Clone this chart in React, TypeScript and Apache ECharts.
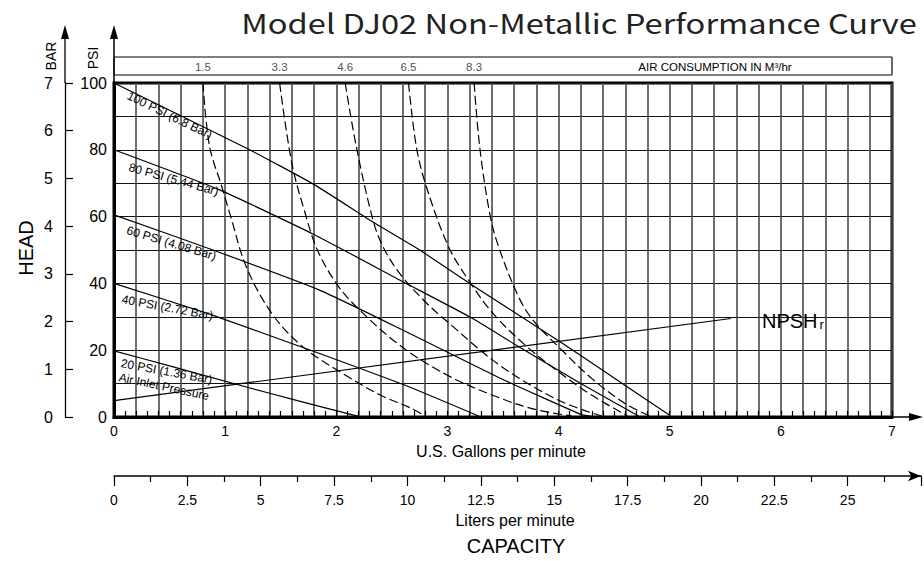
import React, { useEffect, useRef } from "react";
import * as echarts from "echarts";

const titleText = "Model DJ02 Non-Metallic Performance Curve";

// Pressure (air inlet) curves: [US GPM, head PSI]
const psi20 = [[0, 19.8], [0.5, 15.3], [1.1, 9.8], [1.65, 4.9], [2.2, 0.2]];
const psi40 = [[0, 40], [0.86, 30.8], [1.85, 19], [2.62, 9.5], [3.28, 0.3]];
const psi60 = [[0, 60.5], [0.89, 50], [1.85, 38], [2.57, 26.5], [3.47, 11.7], [4.2, 0.8], [4.33, 0]];
const psi80 = [[0, 80], [0.95, 68], [1.79, 54.8], [2.6, 40.5], [3.2, 30], [3.62, 21.5], [4.2, 10], [4.72, 0.3]];
const psi100 = [[0, 100], [1.22, 80], [1.79, 69.8], [2.33, 58.4], [2.75, 50], [3.2, 40], [4.01, 22.6], [4.61, 9.2], [5.0, 0.5]];

// Air consumption curves (m3/hr): [US GPM, head PSI]
const air15 = [[0.8, 100], [0.86, 81], [0.97, 69], [1.05, 60], [1.19, 45], [1.42, 31], [1.7, 21], [2.06, 13], [2.4, 6.5], [2.66, 2.8], [2.8, 0.3]];
const air33 = [[1.49, 100], [1.6, 76], [1.72, 61], [1.83, 50], [2.0, 40], [2.18, 33], [2.57, 21.5], [3.0, 12.5], [3.47, 5.7], [3.8, 2.2], [4.12, 0.3]];
const air46 = [[2.08, 100], [2.18, 81], [2.33, 59], [2.42, 51], [2.57, 43], [2.8, 34.5], [3.0, 28.5], [3.47, 15.5], [4.0, 5], [4.39, 0.3]];
const air65 = [[2.65, 100], [2.72, 81], [2.81, 69], [3.01, 51], [3.2, 40.5], [3.41, 31], [3.7, 21.5], [4.0, 13.5], [4.3, 6.5], [4.62, 0.3]];
const air83 = [[3.24, 100], [3.29, 81], [3.38, 61], [3.46, 51], [3.64, 36], [3.77, 29], [4.0, 21], [4.3, 11.5], [4.6, 4], [4.82, 0.3]];
const airLabels = ["1.5", "3.3", "4.6", "6.5", "8.3"];

// NPSHr line
const npsh = [[0, 4.9], [5.55, 29.5]];

const pressureCurves = [psi20, psi40, psi60, psi80, psi100];
const airCurves = [air15, air33, air46, air65, air83];

const gpmMax = 7;
const psiMax = 100;
const barMax = 7;
const litersMax = 27.5;
const litersPerGallon = 3.785411784;

const curveLabels = [
  { text: "100 PSI (6.8 Bar)", x: 128, y: 95, deg: 26 },
  { text: "80 PSI (5.44 Bar)", x: 129, y: 167, deg: 15.5 },
  { text: "60 PSI (4.08 Bar)", x: 127, y: 230, deg: 16.5 },
  { text: "40 PSI (2.72 Bar)", x: 122, y: 299, deg: 10.5 },
  { text: "20 PSI (1.36 Bar)", x: 121, y: 363, deg: 10.5 },
  { text: "Air Inlet Pressure", x: 119, y: 377, deg: 12 },
];

const ARIAL = 'Arial, "Liberation Sans", Helvetica, sans-serif';

function txt(text: string, x: number, y: number, size: number, opts: any = {}) {
  const align = opts.align || "center";
  const valign = opts.valign || "middle";
  return {
    type: "text",
    x,
    y,
    rotation: opts.rotation || 0,
    scaleX: opts.scaleX || 1,
    z: 100,
    style: {
      text,
      fontSize: size,
      fontFamily: opts.font || ARIAL,
      fill: opts.fill || "#000",
      align,
      verticalAlign: valign,
      textAlign: align,
      textVerticalAlign: valign,
    },
  };
}

export default function App() {
  const ref = useRef<HTMLDivElement>(null);

  useEffect(() => {
    if (!ref.current) return;
    const chart = echarts.init(ref.current, null, { renderer: "svg" });

    const gridLeft = 114;
    const gridTop = 83;
    const gridW = 778;
    const gridH = 334;
    const gridBottomY = gridTop + gridH;
    const litersW = (gridW * litersMax) / (gpmMax * litersPerGallon);

    const series: any[] = [];
    pressureCurves.forEach((d, i) => {
      series.push({
        type: "line",
        name: "p" + i,
        data: d,
        symbol: "none",
        smooth: 0.15,
        lineStyle: { color: "#000", width: 1.2 },
        z: 5,
      });
    });
    airCurves.forEach((d, i) => {
      series.push({
        type: "line",
        name: "a" + i,
        data: d,
        symbol: "none",
        smooth: 0.35,
        lineStyle: { color: "#000", width: 1.2, type: [9, 4] },
        z: 5,
      });
    });
    series.push({
      type: "line",
      name: "npsh",
      data: npsh,
      symbol: "none",
      lineStyle: { color: "#000", width: 1.2 },
      z: 5,
    });
    series.push({
      type: "scatter",
      name: "airLabels",
      data: airCurves.map((d, i) => ({ value: d[0], name: airLabels[i] })),
      symbolSize: 1,
      itemStyle: { color: "rgba(0,0,0,0)" },
      clip: false,
      label: {
        show: true,
        position: "top",
        distance: 10,
        formatter: (p: any) => p.name,
        fontSize: 11.5,
        fontFamily: ARIAL,
        color: "#222",
      },
      z: 10,
    });

    const graphic: any[] = [
      // title
      txt(titleText, 579, 22, 27, {
        font: '"Noto Sans CJK SC", "Noto Sans", sans-serif',
        fill: "#222",
        scaleX: 1.21,
      }),
      // air consumption box
      {
        type: "rect",
        shape: { x: gridLeft, y: 57, width: gridW, height: 18 },
        style: { fill: "none", stroke: "#000", lineWidth: 1 },
        z: 50,
      },
      {
        type: "line",
        shape: { x1: gridLeft + gridW, y1: 57, x2: gridLeft + gridW, y2: 75 },
        style: { stroke: "#666", lineWidth: 2 },
        z: 51,
      },
      txt("AIR CONSUMPTION IN M³/hr", 715, 66.5, 11.5),
      // PSI axis arrow
      {
        type: "line",
        shape: { x1: gridLeft, y1: 38, x2: gridLeft, y2: gridTop },
        style: { stroke: "#000", lineWidth: 1.5 },
        z: 50,
      },
      {
        type: "polygon",
        shape: { points: [[gridLeft, 25], [gridLeft - 4, 39], [gridLeft + 4, 39]] },
        style: { fill: "#000" },
        z: 50,
      },
      // BAR axis arrow
      {
        type: "line",
        shape: { x1: 65, y1: 38, x2: 65, y2: gridTop },
        style: { stroke: "#000", lineWidth: 1.3 },
        z: 50,
      },
      {
        type: "polygon",
        shape: { points: [[65, 25], [61, 39], [69, 39]] },
        style: { fill: "#000" },
        z: 50,
      },
      // GPM axis extension arrow
      {
        type: "line",
        shape: { x1: gridLeft + gridW, y1: gridBottomY, x2: 912, y2: gridBottomY },
        style: { stroke: "#000", lineWidth: 1.5 },
        z: 50,
      },
      {
        type: "polygon",
        shape: { points: [[923, gridBottomY], [909, gridBottomY - 4], [909, gridBottomY + 4]] },
        style: { fill: "#000" },
        z: 50,
      },
      txt("BAR", 51, 56, 14, { rotation: Math.PI / 2 }),
      txt("PSI", 93, 58, 14, { rotation: Math.PI / 2 }),
      txt("HEAD", 26, 248, 20, { rotation: Math.PI / 2 }),
      txt("U.S. Gallons per minute", 501, 451, 16),
      txt("Liters per minute", 515, 520, 16),
      txt("CAPACITY", 516, 546, 20),
      txt("NPSH", 762, 321, 20, { align: "left" }),
      txt("r", 819.5, 324.5, 13, { align: "left" }),
    ];
    curveLabels.forEach((c) => {
      graphic.push(
        txt(c.text, c.x, c.y, 12, { align: "left", rotation: (-c.deg * Math.PI) / 180 })
      );
    });

    const option: any = {
      animation: false,
      backgroundColor: "#fff",
      grid: [
        {
          left: gridLeft,
          top: gridTop,
          width: gridW,
          height: gridH,
          show: true,
          borderColor: "#000",
          borderWidth: 3,
          backgroundColor: "transparent",
        },
        { left: gridLeft, top: 400, width: litersW, height: 76, show: false },
      ],
      xAxis: [
        {
          type: "value",
          gridIndex: 0,
          min: 0,
          max: gpmMax,
          interval: 0.2,
          axisLine: { show: true, lineStyle: { color: "#000", width: 3 } },
          axisTick: { show: true, inside: true, length: 6, lineStyle: { color: "#000", width: 1.2 } },
          minorTick: { show: true, splitNumber: 2, length: 6, lineStyle: { color: "#000", width: 1.2 } },
          splitLine: { show: true, lineStyle: { color: "#4a4a4a", width: 1.6 } },
          axisLabel: {
            margin: 7,
            fontSize: 14,
            fontFamily: ARIAL,
            color: "#000",
            formatter: (v: number) =>
              Math.abs(v - Math.round(v)) < 1e-6 ? String(Math.round(v)) : "",
          },
        },
        {
          type: "value",
          gridIndex: 1,
          min: 0,
          max: litersMax,
          interval: 2.5,
          axisLine: {
            show: true,
            symbol: ["none", "arrow"],
            symbolSize: [8, 13],
            lineStyle: { color: "#000", width: 1.5 },
          },
          axisTick: { show: true, length: 10, lineStyle: { color: "#000", width: 1.2 } },
          minorTick: { show: true, splitNumber: 2, length: 6, lineStyle: { color: "#000", width: 1.2 } },
          splitLine: { show: false },
          minorSplitLine: { show: false },
          axisLabel: {
            margin: 17,
            fontSize: 14,
            fontFamily: ARIAL,
            color: "#000",
            formatter: (v: number) => (v >= litersMax - 1e-6 ? "" : String(v)),
          },
        },
      ],
      yAxis: [
        {
          type: "value",
          gridIndex: 0,
          min: 0,
          max: psiMax,
          interval: 10,
          axisLine: { show: true, lineStyle: { color: "#000", width: 3 } },
          axisTick: { show: false },
          splitLine: { show: true, lineStyle: { color: "#111", width: 1 } },
          axisLabel: {
            margin: 7,
            fontSize: 16,
            fontFamily: ARIAL,
            color: "#000",
            formatter: (v: number) => (Math.round(v) % 20 === 0 ? String(Math.round(v)) : ""),
          },
        },
        {
          type: "value",
          gridIndex: 0,
          position: "left",
          offset: 49,
          min: 0,
          max: barMax,
          interval: 1,
          axisLine: { show: true, lineStyle: { color: "#000", width: 1.3 } },
          axisTick: { show: true, inside: true, length: 8, lineStyle: { color: "#000", width: 1.2 } },
          splitLine: { show: false },
          axisLabel: { margin: 12, fontSize: 16, fontFamily: ARIAL, color: "#000" },
        },
        { type: "value", gridIndex: 1, show: false, min: 0, max: 1 },
      ],
      series,
      graphic,
    };

    chart.setOption(option);
    return () => chart.dispose();
  }, []);

  return (
    <div
      ref={ref}
      style={{ position: "fixed", left: 0, top: 0, width: 924, height: 561, background: "#fff" }}
    />
  );
}
